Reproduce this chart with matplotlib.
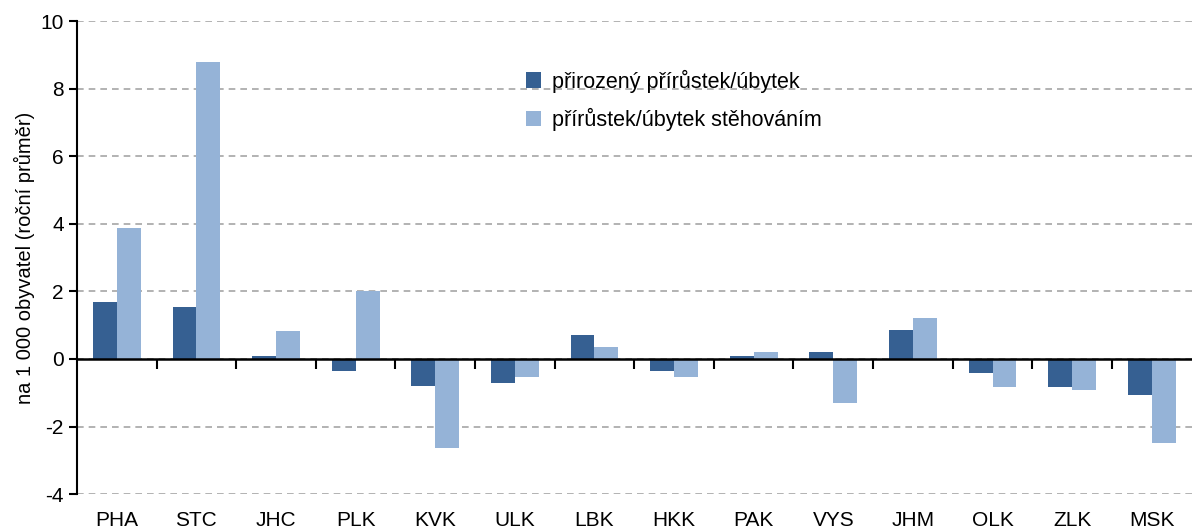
import matplotlib.pyplot as plt
from matplotlib.patches import Rectangle
import numpy as np

plt.rcParams['font.family'] = ['Liberation Sans', 'DejaVu Sans']
plt.rcParams['axes.unicode_minus'] = False

# Data
regions = ["PHA", "STC", "JHC", "PLK", "KVK", "ULK", "LBK",
           "HKK", "PAK", "VYS", "JHM", "OLK", "ZLK", "MSK"]
natural = [1.7, 1.54, 0.1, -0.36, -0.8, -0.7, 0.7,
           -0.35, 0.1, 0.22, 0.87, -0.42, -0.83, -1.07]
migration = [3.88, 8.79, 0.83, 2.0, -2.63, -0.52, 0.35,
             -0.52, 0.22, -1.3, 1.22, -0.83, -0.93, -2.49]
labels = ["přirozený přírůstek/úbytek", "přírůstek/úbytek stěhováním"]

dark = "#366092"
light = "#95B3D7"

figure = plt.figure(figsize=(11.92, 5.29), dpi=100)
axes = figure.add_axes([0.0646, 0.066, 0.935, 0.894])

x = np.arange(len(regions))
w = 0.3
axes.bar(x - w / 2, natural, w, color=dark, label=labels[0], zorder=3)
axes.bar(x + w / 2, migration, w, color=light, label=labels[1], zorder=3)

# Axes range, grid
axes.set_xlim(-0.5, len(regions) - 0.5)
axes.set_ylim(-4, 10)
axes.set_yticks(np.arange(-4, 11, 2))
axes.grid(axis="y", color="#a6a6a6", linestyle=(0, (4, 3)), linewidth=1.2, zorder=0)
axes.set_ylabel("na 1 000 obyvatel (roční průměr)", fontsize=14.5, labelpad=4)

# Spines
for s in ["top", "right", "bottom"]:
    axes.spines[s].set_visible(False)
axes.spines["left"].set_linewidth(1.5)
axes.tick_params(axis="y", labelsize=15, width=1.5, length=6)
axes.set_xticks(x)
axes.set_xticklabels(regions, fontsize=15)
axes.tick_params(axis="x", length=0, pad=12)

# Zero line with tick marks between categories
axes.axhline(0, color="black", linewidth=1.8, zorder=4)
zero_axis = axes.secondary_xaxis(4 / 14)
zero_axis.spines["bottom"].set_visible(False)
zero_axis.set_xticks(np.arange(0.5, len(regions) - 1, 1))
zero_axis.tick_params(axis="x", length=7, width=1.5, labelbottom=False)

# White area behind the legend (hides grid lines there)
axes.add_patch(Rectangle((0.348, 0.74), 0.377, 0.22, transform=axes.transAxes,
                         facecolor="white", edgecolor="none", zorder=1))

# Legend
leg = axes.legend(loc="upper left", bbox_to_anchor=(0.403, 0.898), fontsize=15.5,
                  frameon=False, borderpad=0, labelspacing=0.7,
                  handlelength=0.7, handleheight=0.7, handletextpad=0.5,
                  borderaxespad=0)
leg.set_zorder(5)

figure.savefig("out.png", dpi=100)
